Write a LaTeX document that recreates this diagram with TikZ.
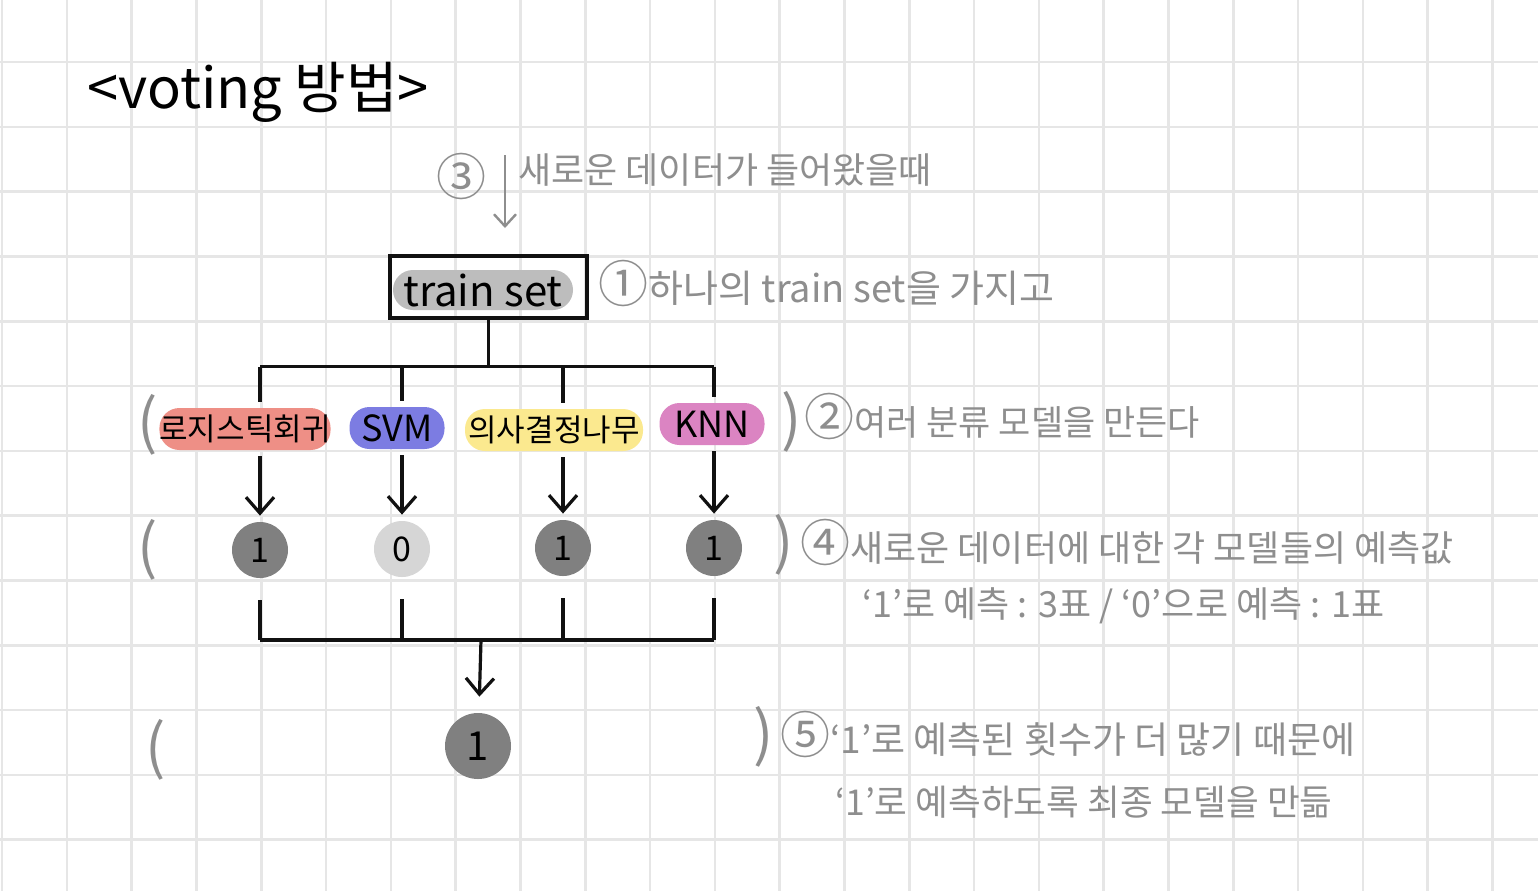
\documentclass[tikz,border=0pt]{standalone}
\usepackage{fontspec}
\setmainfont{Noto Sans CJK KR}
\usetikzlibrary{arrows.meta,positioning,calc}
\definecolor{penblack}{HTML}{111111}
\definecolor{pengrey}{HTML}{8E8E8E}
\definecolor{gridgrey}{HTML}{E6E6E6}
\definecolor{hlgrey}{HTML}{BDBDBD}
\definecolor{hlred}{HTML}{EE8F86}
\definecolor{hlblue}{HTML}{7C7CE2}
\definecolor{hlyellow}{HTML}{FBE98F}
\definecolor{hlpink}{HTML}{DB84C2}
\definecolor{voteone}{HTML}{808080}
\definecolor{votezero}{HTML}{D6D6D6}
\newcommand\cnum[1]{{\fontsize{25}{25}\selectfont #1}}

\begin{document}
\begin{tikzpicture}[
x=0.5pt,y=-0.5pt,
every node/.style={inner sep=0pt},
note/.style={text=pengrey,font=\fontsize{17.5}{20}\selectfont,anchor=west},
paren/.style={text=pengrey,font=\fontsize{30}{34}\selectfont},
model/.style={rounded corners=10pt,minimum height=21pt,font=\fontsize{15.5}{18}\selectfont},
vote/.style={circle,minimum size=28pt,fill=voteone,font=\fontsize{17}{20}\selectfont},
line/.style={line width=1.6pt,draw=penblack},
arr/.style={line,-{Straight Barb[length=8pt,width=14pt]}},
garr/.style={line width=1.2pt,draw=pengrey,-{Straight Barb[length=6pt,width=11pt]}}
]
\useasboundingbox (0,0) rectangle (1538,891);
\fill[white] (0,0) rectangle (1538,891);
% squared paper
\foreach \gx in {0,...,23}
  \draw[gridgrey,line width=1.3pt] ({2+64.8*\gx},0) -- ++(0,891);
\foreach \gy in {1,...,13}
  \draw[gridgrey,line width=1.3pt] (0,{-2.8+64.8*\gy}) -- ++(1538,0);

\node[font=\fontsize{28}{30}\selectfont] (title) at (258,92) {<voting 방법>};

% train set
\node[draw=penblack,line width=1.6pt,minimum width=98.5pt,minimum height=31pt] (train) at (488.5,287) {};
\node[fill=hlgrey,rounded corners=10pt,minimum width=90pt,minimum height=20pt,
  font=\fontsize{21}{24}\selectfont] (trainhl) at (483,290) {train set};

% models
\node[model,fill=hlred,minimum width=85pt]    (logit) at (245,429) {로지스틱회귀};
\node[model,fill=hlblue,minimum width=47.5pt,font=\fontsize{18}{20}\selectfont] (svm) at (397,428) {SVM};
\node[model,fill=hlyellow,minimum width=89pt] (tree)  at (554,430) {의사결정나무};
\node[model,fill=hlpink,minimum width=52.5pt,font=\fontsize{18}{20}\selectfont] (knn) at (712,424) {KNN};

% votes
\node[vote] (v1) at (260,550) {1};
\node[vote,fill=votezero] (v2) at (402,549) {0};
\node[vote] (v3) at (563,548) {1};
\node[vote] (v4) at (714,548) {1};
\node[vote,minimum size=33pt,font=\fontsize{20}{24}\selectfont] (final) at (478,746) {1};

% split
\draw[line] (train.south) -- ++(0,47) coordinate (split);
\draw[line] (v1 |- split) -- (v4 |- split);
\foreach \v/\m in {v1/logit,v2/svm,v3/tree,v4/knn}{
  \draw[line] (\v |- split) -- ([yshift=3pt]\v |- \m.north);
  \draw[arr,shorten >=3pt] ([yshift=-3pt]\v |- \m.south) -- (\v.north);
}

% merge
\coordinate (merge) at (481,640);
\draw[line] (v1 |- merge) -- (v4 |- merge);
\foreach \v in {v1,v2,v3,v4}
  \draw[line] ([yshift=-11pt]\v.south) -- (\v |- merge);
\draw[arr,shorten >=8pt] (merge) -- (final);

% notes
\node[note] (n3mark) at (436,176) {\cnum{③}};
\coordinate (n3top) at (505,155);
\coordinate (n3end) at (505,228);
\draw[garr] (n3top) -- (n3end);
\node[note,font=\fontsize{18}{20}\selectfont] (n3) at (518,170) {새로운 데이터가 들어왔을때};

\node[note,font=\fontsize{19}{22}\selectfont] (n1) at (598,283) {\cnum{①}하나의 train set을 가지고};

\node[paren] (p2l) at (148,425) {(};
\node[paren] (p2r) at (792,422) {)};
\node[note] (n2) at (804,416) {\cnum{②}여러 분류 모델을 만든다};

\node[paren] (p4l) at (148,550) {(};
\node[paren] (p4r) at (784,545) {)};
\node[note,font=\fontsize{18}{20}\selectfont] (n4) at (800,542) {\cnum{④}새로운 데이터에 대한 각 모델들의 예측값};
\node[note,font=\fontsize{18}{20}\selectfont] (n4b) at (862,606) {‘1’로 예측 : 3표 / ‘0’으로 예측 : 1표};

\node[paren] (p5l) at (156,750) {(};
\node[paren] (p5r) at (764,737) {)};
\node[note,font=\fontsize{18.5}{20}\selectfont] (n5) at (780,734) {\cnum{⑤}‘1’로 예측된 횟수가 더 많기 때문에};
\node[note,font=\fontsize{17.8}{20}\selectfont] (n5b) at (835,802) {‘1’로 예측하도록 최종 모델을 만듦};
\end{tikzpicture}
\end{document}
